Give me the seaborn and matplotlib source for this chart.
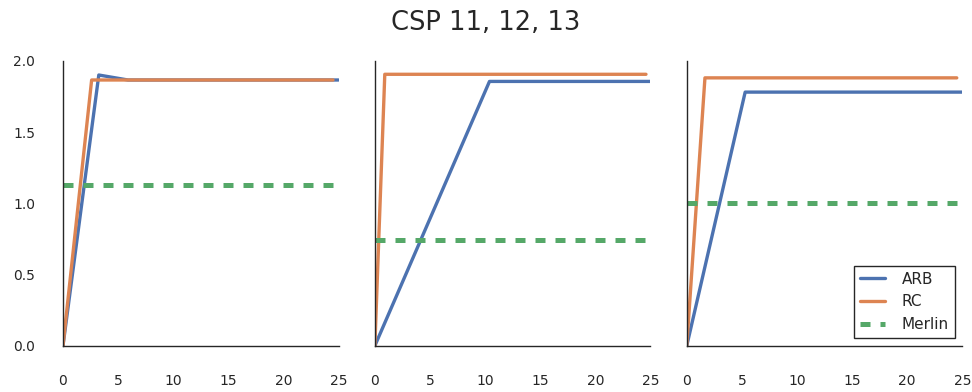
import pandas as pd
import numpy as np
import matplotlib
matplotlib.use('Agg')
import matplotlib.pyplot as plt
import seaborn as sns

# valores (tres CSP)
titulos = ['CSP 11', 'CSP 12', 'CSP 13']

arb_x = [[0, 3.25, 5.9, 25], [0, 10.4, 25], [0, 5.3, 25]]
arb_y = [[0, 1.90, 1.865, 1.865], [0, 1.855, 1.855], [0, 1.78, 1.78]]

rc_x = [[0, 2.6, 24.5], [0, 0.9, 24.6], [0, 1.65, 24.5]]
rc_y = [[0, 1.865, 1.865], [0, 1.905, 1.905], [0, 1.88, 1.88]]

merlin = [1.125, 0.745, 1.005]

x_ticks = [0, 5, 10, 15, 20, 25]
y_ticks = [0.0, 0.5, 1.0, 1.5, 2.0]

sns.set_theme(style='white')
plt.rcParams['font.family'] = ['DejaVu Sans']

fig, axes = plt.subplots(1, 3, figsize=(9.72, 3.92), dpi=100, sharey=True)
plt.subplots_adjust(left=0.0648, right=0.990, top=0.845, bottom=0.118, wspace=0.132)

colores = sns.color_palette('deep')

for i, ax in enumerate(axes):
    sns.lineplot(x=arb_x[i], y=arb_y[i], ax=ax, color=colores[0], linewidth=2.4, label='ARB', sort=False)
    sns.lineplot(x=rc_x[i], y=rc_y[i], ax=ax, color=colores[1], linewidth=2.4, label='RC', sort=False)
    ax.axhline(merlin[i], color=colores[2], linewidth=3.6, dashes=(2, 2), label='Merlin')

    ax.set_xlim(0, 25)
    ax.set_ylim(0, 2.0)
    ax.set_xticks(x_ticks)
    ax.set_yticks(y_ticks)
    ax.tick_params(axis='both', length=0, pad=20, labelsize=10, colors='#262626')
    for lado in ['top', 'right']:
        ax.spines[lado].set_visible(False)
    for lado in ['left', 'bottom']:
        ax.spines[lado].set_color('#262626')
        ax.spines[lado].set_linewidth(1.0)

    if i < 2:
        ax.get_legend().remove()
    else:
        leg = ax.legend(loc='lower right', fancybox=False, fontsize=11, framealpha=1,
                        handlelength=1.6, handletextpad=1.1)
        leg.get_frame().set_edgecolor('#262626')
        leg.get_frame().set_linewidth(1.0)

fig.suptitle(', '.join([titulos[0]] + [t.split()[1] for t in titulos[1:]]), fontsize=18.5, y=0.975, color='#262626')

plt.savefig('out.png', dpi=100)
